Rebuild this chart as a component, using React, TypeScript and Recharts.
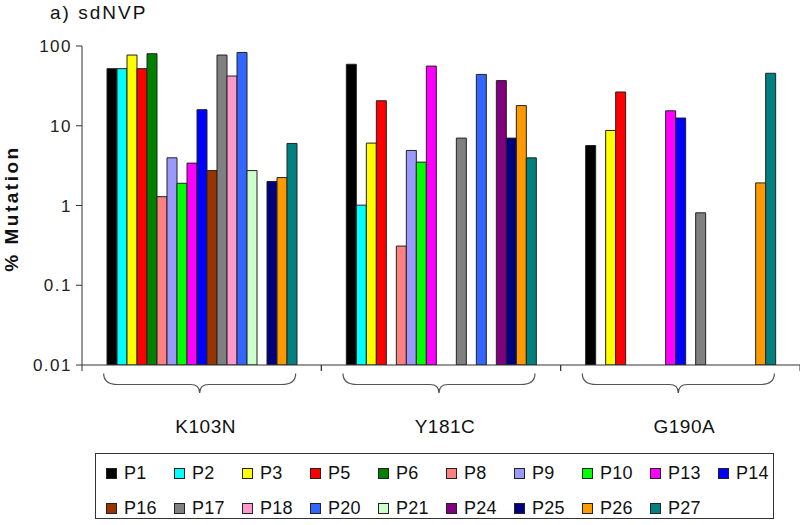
import { BarChart, Bar, XAxis, YAxis, Legend } from "recharts";

const FONT = '"Liberation Sans", Arial, sans-serif';

const categories = ["K103N", "Y181C", "G190A"];

const patients = [
  "P1", "P2", "P3", "P5", "P6", "P8", "P9", "P10", "P13", "P14",
  "P16", "P17", "P18", "P20", "P21", "P24", "P25", "P26", "P27",
];

const colors = [
  "#000000", "#00ffff", "#ffff00", "#ff0000", "#008000", "#ff8080", "#9999ff",
  "#00ff00", "#ff00ff", "#0000ff", "#993300", "#808080", "#ff99cc", "#3366ff",
  "#ccffcc", "#800080", "#000080", "#ff9900", "#008080",
];

// % mutation per patient, same order as patients (null = not detected)
const k103n = [52, 52, 77, 52, 80, 1.29, 3.96, 1.9, 3.4, 15.9, 2.74, 77, 42, 83, 2.74, null, 2.0, 2.24, 6.0];
const y181c = [59, 1.01, 6.06, 20.6, null, 0.31, 4.9, 3.5, 56, null, null, 7.0, null, 44, null, 36.8, 7.0, 17.9, 3.96];
const g190a = [5.65, null, 8.73, 26.5, null, null, null, null, 15.4, 12.5, null, 0.81, null, null, null, null, null, 1.92, 45.5];

const yTicks = [0.01, 0.1, 1, 10, 100];

const valuesByCategory = [k103n, y181c, g190a];
const data = categories.map((category, ci) => {
  const row: Record<string, any> = { category };
  patients.forEach((p, pi) => {
    const v = valuesByCategory[ci][pi];
    if (v != null) row[p] = v;
  });
  return row;
});

const W = 800;
const H = 525;
const Y_AXIS_W = 82;
const BAND = (W - Y_AXIS_W) / categories.length;

const CategoryTick = (props: any) => {
  const { x, y, payload } = props;
  const cx = x - 2;
  const bw = 96;
  const l = cx - bw;
  const r = cx + bw;
  const top = y + 8.5;
  const mid = y + 19.5;
  const tip = y + 28;
  const brace =
    `M${l},${top} Q${l},${mid} ${l + 14},${mid} L${cx - 9},${mid} ` +
    `Q${cx},${mid} ${cx},${tip} Q${cx},${mid} ${cx + 9},${mid} ` +
    `L${r - 14},${mid} Q${r},${mid} ${r},${top}`;
  return (
    <g>
      <line x1={x - BAND / 2} x2={x - BAND / 2} y1={y} y2={y + 6} stroke="#333" />
      <line x1={x + BAND / 2} x2={x + BAND / 2} y1={y} y2={y + 6} stroke="#333" />
      <path d={brace} fill="none" stroke="#555" strokeWidth={1.2} />
      <text
        x={x + 4}
        y={y + 68}
        textAnchor="middle"
        fontSize={19}
        fontFamily={FONT}
        fill="#111"
        letterSpacing={0.5}
      >
        {payload.value}
      </text>
    </g>
  );
};

const YLabel = (props: any) => {
  const vb = props.viewBox || { y: 46, height: 318 };
  const cy = vb.y + vb.height / 2 + 3;
  return (
    <text
      x={18}
      y={cy}
      transform={`rotate(-90, 18, ${cy})`}
      textAnchor="middle"
      fontSize={19}
      fontWeight="bold"
      fontFamily={FONT}
      letterSpacing={2.5}
      fill="#111"
    >
      % Mutation
    </text>
  );
};

const LegendBox = (props: any) => {
  const items = patients.map((p, i) => {
    const entry = (props.payload || []).find((e: any) => e.value === p);
    return { name: p, color: entry ? entry.color : colors[i] };
  });
  return (
    <div
      style={{
        border: "1px solid #333",
        width: 679,
        height: 66,
        boxSizing: "border-box",
        padding: "2px 0 0 10px",
        display: "grid",
        gridTemplateColumns: "repeat(10, 68px)",
        gridAutoRows: "35px",
        background: "#fff",
        fontFamily: FONT,
      }}
    >
      {items.map((it: any) => (
        <div key={it.name} style={{ display: "flex", alignItems: "center" }}>
          <span
            style={{
              width: 11,
              height: 11,
              background: it.color,
              border: "1px solid #222",
              boxSizing: "border-box",
              marginRight: 7,
            }}
          />
          <span style={{ fontSize: 18, letterSpacing: 0.3, color: "#111" }}>{it.name}</span>
        </div>
      ))}
    </div>
  );
};

export default function App() {
  return (
    <div style={{ position: "absolute", left: 0, top: 0, width: W, height: H, background: "#fff", fontFamily: FONT }}>
      <div
        style={{
          position: "absolute",
          left: 50,
          top: 3,
          fontSize: 19,
          lineHeight: "19px",
          letterSpacing: 2,
          color: "#111",
        }}
      >
        a) sdNVP
      </div>
      <BarChart
        width={W}
        height={H}
        data={data}
        margin={{ top: 46, right: 0, bottom: 100, left: 0 }}
        barCategoryGap={25}
        barGap={0}
      >
        <XAxis
          dataKey="category"
          height={60}
          interval={0}
          tickLine={false}
          tickSize={0}
          tickMargin={0}
          axisLine={{ stroke: "#333" }}
          tick={CategoryTick}
        />
        <YAxis
          scale="log"
          domain={[0.01, 100]}
          ticks={yTicks}
          allowDataOverflow
          width={Y_AXIS_W}
          axisLine={{ stroke: "#333" }}
          tickLine={{ stroke: "#333" }}
          tickSize={6}
          tickMargin={4}
          tick={{ fontSize: 17, fill: "#222", fontFamily: FONT, letterSpacing: 1.5 }}
          label={<YLabel />}
        />
        <Legend
          layout="horizontal"
          verticalAlign="middle"
          align="center"
          wrapperStyle={{ top: 453, left: 95, width: 679, height: 66 }}
          content={<LegendBox />}
        />
        {patients.map((p, i) => (
          <Bar
            key={p}
            dataKey={p}
            name={p}
            fill={colors[i]}
            stroke="#222"
            strokeWidth={1}
            isAnimationActive={false}
          />
        ))}
      </BarChart>
    </div>
  );
}
